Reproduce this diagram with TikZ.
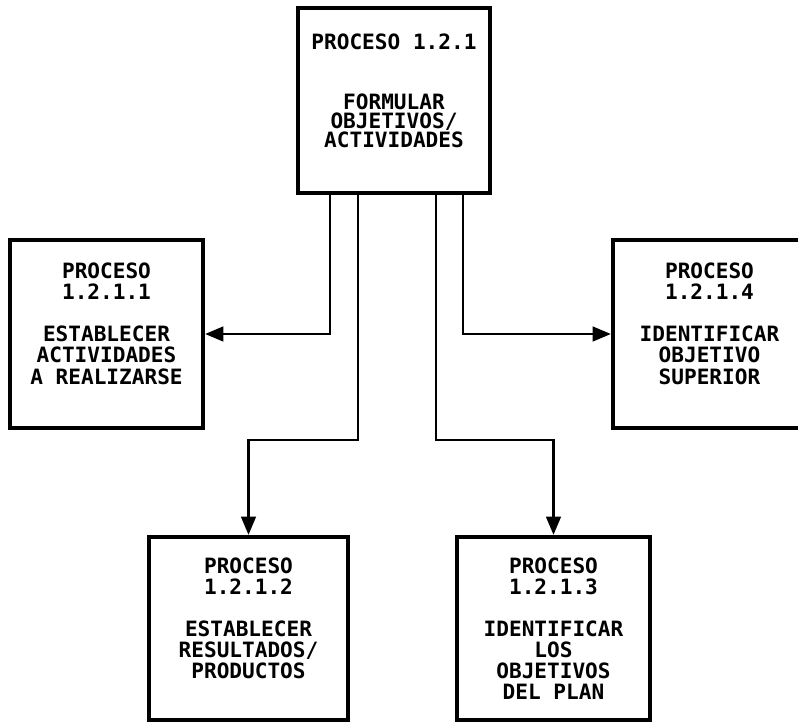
\documentclass[tikz,border=0pt]{standalone}
\usepackage{fontspec}
\newfontfamily\plotfont{DejaVu Sans Mono}
\usetikzlibrary{arrows.meta,calc}

\begin{document}
\begin{tikzpicture}[x=0.025cm,y=-0.025cm,>={Triangle[length=13pt,width=10.5pt]},
  caja/.style={draw,line width=3pt,align=center,inner sep=0pt,
    font=\plotfont\bfseries\fontsize{15}{15}\selectfont},
  flecha/.style={->,line width=1.6pt}]
 \clip (0,0) rectangle (798,724);
 % Proceso principal arriba, cuatro subprocesos alrededor.
 \node[caja,minimum width=4.8cm,minimum height=4.625cm,
  font=\plotfont\bfseries\fontsize{15}{13.5}\selectfont] (top) at (394,100.5)
  {PROCESO 1.2.1\\[29pt]FORMULAR\\OBJETIVOS/\\ACTIVIDADES\\};
 \node[caja,minimum width=4.825cm,minimum height=4.7cm] (p1) at (106.5,334)
  {PROCESO\\1.2.1.1\\[15pt]ESTABLECER\\ACTIVIDADES\\A REALIZARSE\\};
 \node[caja,minimum width=4.975cm,minimum height=4.575cm] (p2) at (248.5,628.5)
  {PROCESO\\1.2.1.2\\[15pt]ESTABLECER\\RESULTADOS/\\PRODUCTOS\\};
 \node[caja,minimum width=4.825cm,minimum height=4.575cm] (p3) at (553.5,628.5)
  {PROCESO\\1.2.1.3\\[15pt]IDENTIFICAR\\LOS\\OBJETIVOS\\DEL PLAN};
 \node[caja,minimum width=4.825cm,minimum height=4.7cm] (p4) at (709.5,334)
  {PROCESO\\1.2.1.4\\[15pt]IDENTIFICAR\\OBJETIVO\\SUPERIOR\\};
 % Salidas del proceso principal.
 \coordinate (b1) at (330,0);
 \coordinate (b2) at (358,0);
 \coordinate (b3) at (436,0);
 \coordinate (b4) at (463,0);
 \coordinate (nivel) at (0,440);
 \draw[flecha] (top.south -| b1) |- (p1.east);
 \draw[flecha] (top.south -| b4) |- (p4.west);
 \draw[flecha] (top.south -| b2) |- (nivel -| p2.north) -- (p2.north);
 \draw[flecha] (top.south -| b3) |- (nivel -| p3.north) -- (p3.north);
\end{tikzpicture}
\end{document}
